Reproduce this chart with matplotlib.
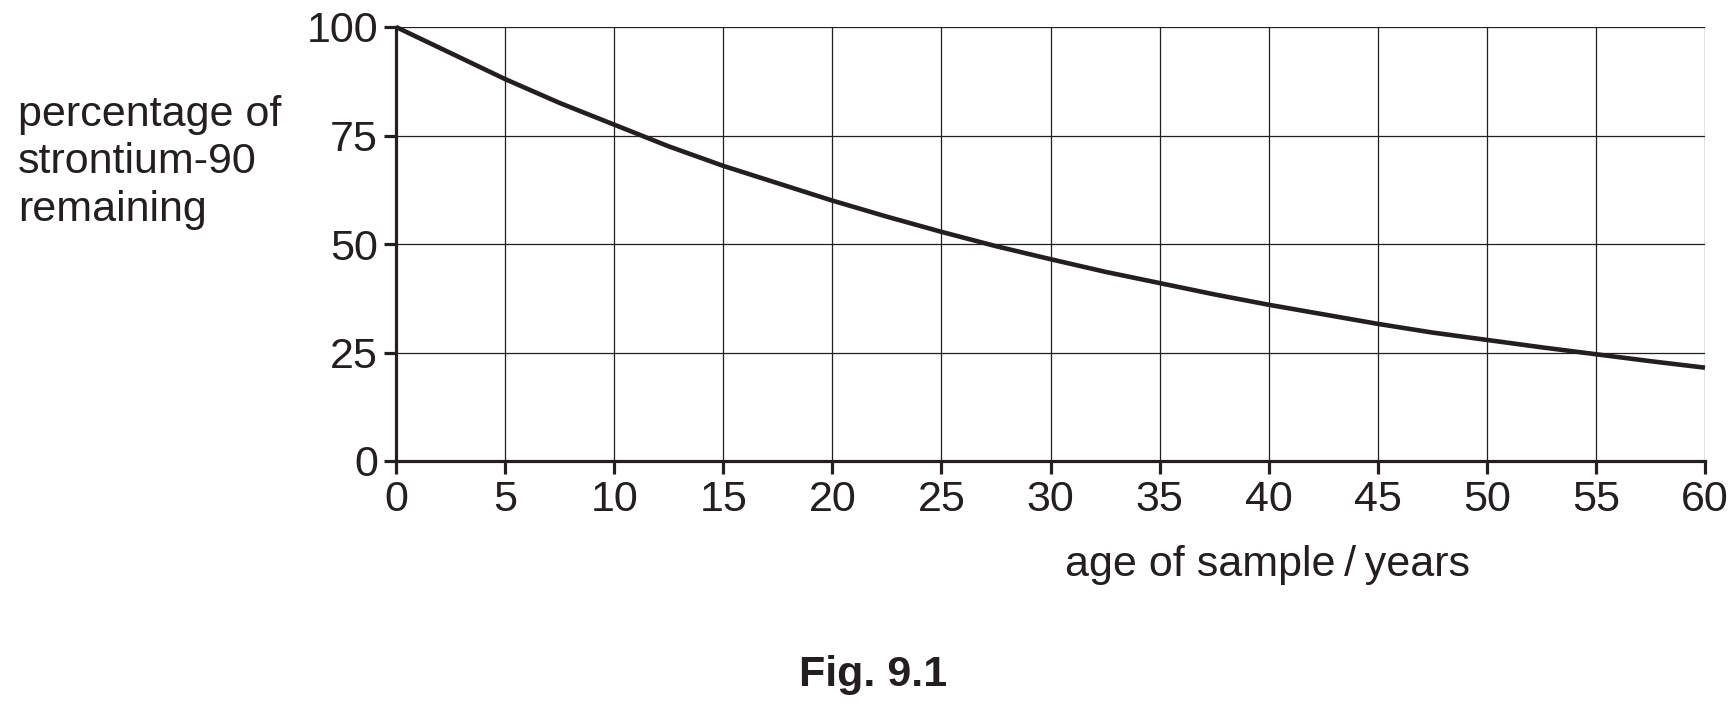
import matplotlib
matplotlib.use("Agg")
import matplotlib.pyplot as plt

# ---- style ----
plt.rcParams["font.family"] = ["Liberation Sans", "DejaVu Sans"]
INK = "#231f20"
FS = 31

# ---- data ----
age_years = [0, 2.5, 5, 7.5, 10, 12.5, 15, 17.5, 20, 22.5, 25, 27.5, 30,
             32.5, 35, 37.5, 40, 42.5, 45, 47.5, 50, 52.5, 55, 57.5, 60]
pct_remaining = [100, 94, 88, 82.5, 77.5, 72.5, 68, 64, 60, 56.3, 52.8, 49.5, 46.5,
                 43.6, 41, 38.4, 36, 33.8, 31.6, 29.6, 27.9, 26.2, 24.6, 23, 21.5]
x_ticks = list(range(0, 61, 5))
y_ticks = [0, 25, 50, 75, 100]

fig = plt.figure(figsize=(17.29, 7.06), dpi=100, facecolor="white")
ax = fig.add_axes([396 / 1729, 1 - 461 / 706, (1705 - 396) / 1729, (461 - 27) / 706])

ax.plot(age_years, pct_remaining, color=INK, lw=3.3, clip_on=False, zorder=5,
        solid_capstyle="butt")

ax.set_xlim(0, 60)
ax.set_ylim(0, 100)
ax.set_xticks(x_ticks)
ax.set_yticks(y_ticks)
ax.grid(True, color=INK, lw=0.9)
ax.set_axisbelow(True)

ax.spines["top"].set_visible(False)
ax.spines["right"].set_visible(False)
for s in ("left", "bottom"):
    ax.spines[s].set_color(INK)
    ax.spines[s].set_linewidth(2.3)
    ax.spines[s].set_zorder(6)

ax.tick_params(axis="x", direction="out", length=9, width=2.3, color=INK,
               labelsize=FS, labelcolor=INK, pad=5)
ax.tick_params(axis="y", direction="out", length=9, width=2.3, color=INK,
               labelsize=FS, labelcolor=INK, pad=4)

# ---- labels ----
fig.text(0.0102, 0.77, "percentage of\nstrontium-90\nremaining", ha="left", va="center",
         fontsize=FS, color=INK, linespacing=1.25)
fig.text(0.733, 0.2, "age of sample\u2009/\u2009years", ha="center", va="center",
         fontsize=FS, color=INK)
fig.text(0.505, 0.044, "Fig. 9.1", ha="center", va="center",
         fontsize=FS, fontweight="bold", color=INK)

plt.savefig("out.png", dpi=100, facecolor="white")
plt.close()
